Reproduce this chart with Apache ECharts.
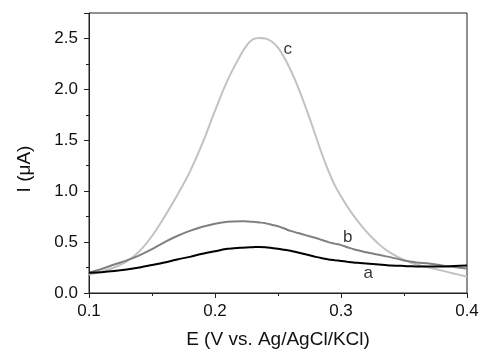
<!DOCTYPE html>
<html>
<head>
<meta charset="utf-8">
<script src="https://cdn.jsdelivr.net/npm/echarts@6/dist/echarts.min.js"></script>
<style>html,body{margin:0;padding:0;background:#fff}#c{width:482px;height:352px}</style>
</head>
<body>
<div id="c"></div>
<script>
var potentials = [0.100,0.110,0.120,0.130,0.140,0.150,0.160,0.170,0.180,0.190,0.200,0.210,0.220,0.225,0.230,0.235,0.240,0.245,0.250,0.255,0.260,0.265,0.270,0.275,0.280,0.285,0.290,0.295,0.300,0.305,0.310,0.315,0.320,0.325,0.330,0.335,0.340,0.345,0.350,0.355,0.360,0.370,0.380,0.390,0.400];
var curveA = [0.20,0.205,0.215,0.23,0.25,0.275,0.30,0.33,0.355,0.385,0.41,0.435,0.445,0.448,0.45,0.452,0.45,0.443,0.435,0.425,0.415,0.40,0.385,0.37,0.355,0.342,0.33,0.322,0.315,0.307,0.30,0.295,0.29,0.285,0.28,0.275,0.27,0.268,0.265,0.262,0.26,0.26,0.26,0.265,0.27];
var curveB = [0.20,0.235,0.28,0.32,0.37,0.43,0.50,0.56,0.61,0.65,0.68,0.70,0.705,0.703,0.70,0.693,0.685,0.67,0.655,0.633,0.61,0.592,0.575,0.557,0.54,0.52,0.50,0.485,0.47,0.45,0.43,0.415,0.40,0.388,0.375,0.362,0.35,0.335,0.32,0.31,0.30,0.29,0.27,0.255,0.24];
var curveC = [0.18,0.21,0.25,0.31,0.41,0.56,0.75,0.96,1.19,1.47,1.79,2.09,2.33,2.43,2.49,2.505,2.50,2.47,2.41,2.31,2.19,2.05,1.89,1.72,1.54,1.36,1.20,1.06,0.95,0.85,0.76,0.68,0.605,0.54,0.48,0.43,0.39,0.355,0.325,0.30,0.28,0.25,0.22,0.19,0.16];
var curveLabels = ['a','b','c'];
var labelX = [0.3217,0.3053,0.2577];
var labelY = [0.196,0.55,2.39];
var xTicks = [0.1,0.2,0.3,0.4];
var yTicks = [0.0,0.5,1.0,1.5,2.0,2.5];

function pairs(xs, ys){ return xs.map(function(x,i){ return [x, ys[i]]; }); }
var chart = echarts.init(document.getElementById('c'), null, {renderer:'canvas'});
var font = 'Liberation Sans, Arial, sans-serif';
var axisCommon = {
  axisLine:{show:true, lineStyle:{color:'#222', width:1}},
  axisTick:{show:true, inside:false, length:5, lineStyle:{color:'#222'}},
  minorTick:{show:true, splitNumber:2, length:3, lineStyle:{color:'#222'}},
  splitLine:{show:false}
};
chart.setOption({
  animation:false,
  grid:{left:89, right:15, top:13, bottom:59, containLabel:false, outerBoundsMode:'none', show:true, borderColor:'#222', borderWidth:1},
  xAxis: Object.assign({
    type:'value', min:0.1, max:0.4, interval:0.1,
    name:'E (V vs. Ag/AgCl/KCl)', nameLocation:'middle', nameGap:37,
    nameTextStyle:{fontFamily:font, fontSize:19, color:'#111'},
    axisLabel:{fontFamily:font, fontSize:17, color:'#111', margin:10,
      formatter:function(v){ var r=Math.round(v*10)/10; return xTicks.indexOf(r)>=0 ? r.toFixed(1) : ''; }}
  }, axisCommon),
  yAxis: Object.assign({
    type:'value', min:0, max:2.75, interval:0.5,
    name:'I (μA)', nameLocation:'middle', nameGap:55, nameRotate:90,
    nameTextStyle:{fontFamily:font, fontSize:19, color:'#111', padding:[0, 32, 0, 0]},
    axisLabel:{fontFamily:font, fontSize:17, color:'#111', margin:11, showMaxLabel:false,
      formatter:function(v){ var r=Math.round(v*10)/10; return yTicks.indexOf(r)>=0 && Math.abs(v-r)<1e-6 ? r.toFixed(1) : ''; }}
  }, axisCommon),
  series:[
    {type:'line', data:pairs(potentials, curveC), showSymbol:false, smooth:0.4, lineStyle:{color:'#c2c2c2', width:2}, z:2},
    {type:'line', data:pairs(potentials, curveB), showSymbol:false, smooth:0.3, lineStyle:{color:'#808080', width:2}, z:3},
    {type:'line', data:pairs(potentials, curveA), showSymbol:false, smooth:0.3, lineStyle:{color:'#000', width:2}, z:4},
    {type:'scatter', symbolSize:0, silent:true, z:5,
      data:curveLabels.map(function(t,i){ return {value:[labelX[i], labelY[i]], name:t}; }),
      label:{show:true, position:'inside', formatter:'{b}', fontFamily:font, fontSize:17, color:'#000'}}
  ]
});
</script>
</body>
</html>
